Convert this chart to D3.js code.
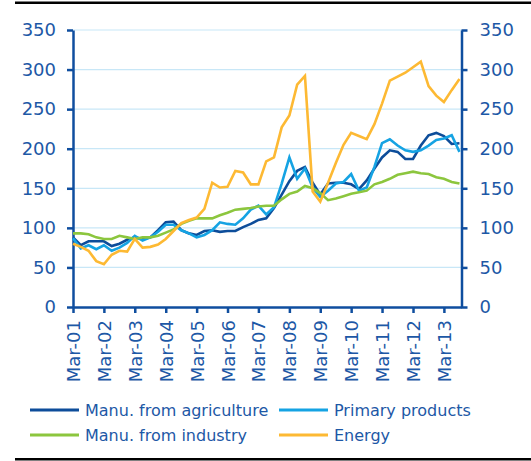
<!DOCTYPE html>
<html>
<head>
<meta charset="utf-8">
<script src="https://cdn.jsdelivr.net/npm/d3@7"></script>
<style>
  body { margin: 0; background: #fff; }
  svg text { font-family: "DejaVu Sans", Verdana, sans-serif; fill: #1d58a6; }
</style>
</head>
<body>
<svg id="chart" width="531" height="461"></svg>
<script>
// quarterly index, Mar-01 .. Sep-13
const firstQuarter = new Date(2001, 2, 1);
const lastQuarter = new Date(2013, 8, 1);
const quarters = d3.timeMonth.range(firstQuarter, d3.timeMonth.offset(lastQuarter, 1), 3);

const seriesNames = ["Manu. from agriculture", "Primary products", "Manu. from industry", "Energy"];
const seriesColors = ["#0d4d9a", "#15a3e3", "#8cc63e", "#fdb933"];

const agriculture = [88, 78, 83, 83, 83, 77, 80, 85, 88, 86, 88, 97, 107, 108, 97, 93, 91, 96, 97, 95,
  96, 96, 101, 105, 110, 112, 125, 142, 159, 172, 177, 157, 142, 156, 157, 157, 155, 149, 160, 175,
  189, 198, 196, 187, 187, 204, 217, 220, 216, 206, 207];
const primary = [87, 74, 78, 73, 78, 71, 75, 81, 90, 84, 88, 95, 104, 104, 97, 93, 88, 91, 97, 107,
  105, 104, 112, 123, 128, 117, 126, 156, 189, 162, 175, 151, 139, 147, 156, 158, 168, 147, 151, 177,
  207, 212, 204, 198, 196, 198, 204, 211, 213, 217, 196];
const industry = [93, 93, 92, 88, 86, 86, 90, 88, 86, 88, 88, 90, 94, 98, 105, 109, 112, 112, 112, 116,
  119, 123, 124, 125, 127, 128, 128, 136, 143, 146, 153, 150, 144, 135, 137, 140, 143, 145, 147, 155,
  158, 162, 167, 169, 171, 169, 168, 164, 162, 158, 156];
const energy = [80, 76, 71, 58, 54, 66, 71, 70, 86, 75, 76, 79, 86, 96, 106, 110, 113, 124, 157, 151,
  152, 172, 170, 155, 155, 184, 189, 227, 242, 281, 292, 146, 133, 157, 182, 205, 220, 216, 212, 231,
  257, 286, 291, 296, 303, 310, 279, 267, 259, 274, 288];

const yTicks = [0, 50, 100, 150, 200, 250, 300, 350];
const xTicks = d3.range(2001, 2014).map(yr => new Date(yr, 2, 1));

const svg = d3.select("#chart");
const plotLeft = 73, plotRight = 461.5, plotTop = 30, plotBottom = 307;
const axisColor = "#0f4e9f";

const x = d3.scaleTime()
    .domain([firstQuarter, new Date(2013, 8, 25)])
    .range([plotLeft, plotRight]);
const y = d3.scaleLinear()
    .domain([0, 350])
    .range([plotBottom, plotTop]);

// rules top and bottom
svg.append("rect").attr("x", 15).attr("y", 1.5).attr("width", 516).attr("height", 2.5).attr("fill", "#000");
svg.append("rect").attr("x", 15).attr("y", 458).attr("width", 516).attr("height", 2.5).attr("fill", "#000");

// grid
svg.append("g").selectAll("line")
    .data(yTicks.filter(d => d > 0))
    .join("line")
    .attr("x1", plotLeft).attr("x2", plotRight)
    .attr("y1", d => y(d)).attr("y2", d => y(d))
    .attr("stroke", "#c8e7f7").attr("stroke-width", 1.2);

function styleAxis(g) {
    g.selectAll("path, line").attr("stroke", axisColor).attr("stroke-width", 2.5);
    g.selectAll("text").attr("fill", "#1d58a6").style("font-size", "18px")
        .style("font-family", "DejaVu Sans, Verdana, sans-serif");
}

const yLeft = svg.append("g")
    .attr("transform", `translate(${plotLeft},0)`)
    .call(d3.axisLeft(y).tickValues(yTicks).tickSize(6).tickSizeOuter(0).tickPadding(11));
styleAxis(yLeft);

const yRight = svg.append("g")
    .attr("transform", `translate(${plotRight},0)`)
    .call(d3.axisRight(y).tickValues(yTicks).tickSize(6).tickSizeOuter(0).tickPadding(12));
styleAxis(yRight);

const xAxis = svg.append("g")
    .attr("transform", `translate(0,${plotBottom})`)
    .call(d3.axisBottom(x).tickValues(xTicks).tickFormat(d3.timeFormat("%b-%y")).tickSize(6).tickSizeOuter(0));
styleAxis(xAxis);
xAxis.selectAll("text")
    .attr("transform", "rotate(-90)")
    .attr("text-anchor", "end")
    .attr("x", -13)
    .attr("y", 0)
    .attr("dy", "0.36em");

// lines
const allSeries = [agriculture, primary, industry, energy];
const line = d3.line()
    .x((d, i) => x(quarters[i]))
    .y(d => y(d));

svg.append("g").selectAll("path")
    .data(allSeries)
    .join("path")
    .attr("d", d => line(d))
    .attr("fill", "none")
    .attr("stroke", (d, i) => seriesColors[i])
    .attr("stroke-width", 2.6)
    .attr("stroke-linejoin", "miter");

// legend
const legendPos = [[30, 410], [279, 410], [30, 435], [279, 435]];
const legend = svg.append("g").selectAll("g")
    .data(seriesNames)
    .join("g")
    .attr("transform", (d, i) => `translate(${legendPos[i][0]},${legendPos[i][1]})`);
legend.append("line")
    .attr("x1", 0).attr("x2", 49)
    .attr("stroke", (d, i) => seriesColors[i])
    .attr("stroke-width", 3);
legend.append("text")
    .attr("x", 55)
    .attr("dy", "0.35em")
    .style("font-size", "16px")
    .text(d => d);
</script>
</body>
</html>
